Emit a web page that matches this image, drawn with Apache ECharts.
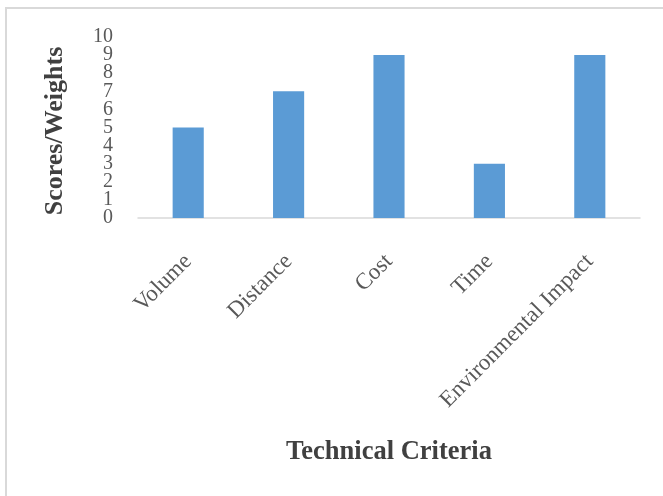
<!DOCTYPE html>
<html>
<head>
<meta charset="utf-8">
<script src="https://cdn.jsdelivr.net/npm/echarts@6/dist/echarts.min.js"></script>
<style>
  html, body { margin: 0; padding: 0; background: #fff; }
  #chart { width: 663px; height: 496px; }
</style>
</head>
<body>
<div id="chart"></div>
<script>
// Scores/weights per technical criterion
const categories = ['Volume', 'Distance', 'Cost', 'Time', 'Environmental Impact'];
const scores = [5, 7, 9, 3, 9];
const yTicks = [0, 1, 2, 3, 4, 5, 6, 7, 8, 9, 10];

const serif = '"Liberation Serif", "Times New Roman", serif';
const yMin = yTicks[0];
const yMax = yTicks[yTicks.length - 1];
const plotRect = { left: 138, right: 23, top: 37, bottom: 278, containLabel: false };
const tickLabelStyle = { margin: 25, fontFamily: serif, fontSize: 20, color: '#595959' };

const chart = echarts.init(document.getElementById('chart'), null, { renderer: 'canvas' });

chart.setOption({
  backgroundColor: '#ffffff',
  animation: false,
  graphic: [
    // frame around the chart area (top and left edges)
    { type: 'rect', shape: { x: 5, y: 7, width: 658, height: 2 }, style: { fill: '#d9d9d9' }, silent: true },
    { type: 'rect', shape: { x: 5, y: 7, width: 2, height: 489 }, style: { fill: '#d9d9d9' }, silent: true }
  ],
  // second grid shares the plot rect and carries the end labels (0 and 10) of the value scale,
  // so the tightly packed inner labels are not dropped by overlap handling
  grid: [Object.assign({}, plotRect), Object.assign({}, plotRect)],
  xAxis: [{
    type: 'category',
    gridIndex: 0,
    data: categories,
    name: 'Technical Criteria',
    nameLocation: 'middle',
    nameGap: 221,
    nameTextStyle: { fontFamily: serif, fontSize: 26.5, fontWeight: 'bold', color: '#404040' },
    axisLine: { show: true, lineStyle: { color: '#d9d9d9', width: 1.5 } },
    axisTick: { show: false },
    axisLabel: {
      rotate: 45,
      margin: 40,
      interval: 0,
      fontFamily: serif,
      fontSize: 23,
      color: '#595959'
    },
    splitLine: { show: false }
  }, {
    type: 'category',
    gridIndex: 1,
    data: categories,
    show: false
  }],
  yAxis: [{
    type: 'value',
    gridIndex: 0,
    min: yMin,
    max: yMax,
    interval: 1,
    name: 'Scores/Weights',
    nameLocation: 'middle',
    nameRotate: 90,
    nameGap: 70,
    nameTextStyle: { fontFamily: serif, fontSize: 26, fontWeight: 'bold', color: '#404040', padding: [0, 7, 0, 0] },
    axisLine: { show: false },
    axisTick: { show: false },
    splitLine: { show: false },
    axisLabel: Object.assign({ showMinLabel: false, showMaxLabel: false }, tickLabelStyle)
  }, {
    type: 'value',
    gridIndex: 1,
    position: 'left',
    min: yMin,
    max: yMax,
    interval: yMax - yMin,
    axisLine: { show: false },
    axisTick: { show: false },
    splitLine: { show: false },
    axisLabel: Object.assign({ showMinLabel: true, showMaxLabel: true }, tickLabelStyle)
  }],
  series: [{
    type: 'bar',
    xAxisIndex: 0,
    yAxisIndex: 0,
    data: scores,
    barWidth: '31%',
    itemStyle: { color: '#5B9BD5' }
  }]
});
</script>
</body>
</html>
